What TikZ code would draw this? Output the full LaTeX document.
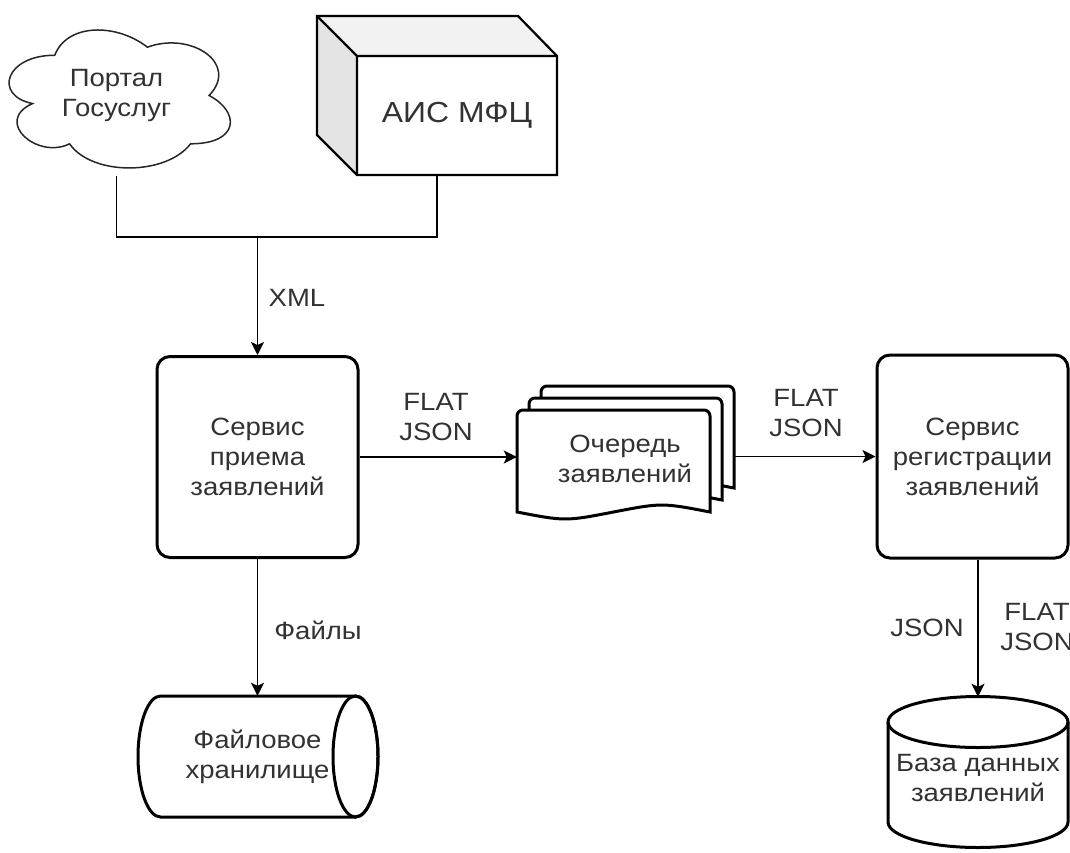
\documentclass[tikz,border=0pt]{standalone}
\usepackage{fontspec}
\setmainfont{Liberation Sans}[FakeStretch=1.1]
\usetikzlibrary{arrows.meta}
\definecolor{txt}{RGB}{50,50,50}
\definecolor{cubetop}{RGB}{242,242,242}
\definecolor{cubeside}{RGB}{228,228,228}
\begin{document}
\begin{tikzpicture}[x=1pt,y=-1pt,
  every node/.style={text=txt, font=\fontsize{25}{30}\selectfont, align=center, inner sep=0pt},
  box/.style={draw=black, line width=3pt, rounded corners=13pt, fill=white, minimum width=201pt, minimum height=201pt},
  conn/.style={draw=black, line width=1.8pt},
  arr/.style={conn, -{Stealth[length=13pt,width=13pt,inset=3pt]}},
  outl/.style={draw=black, line width=3pt, fill=white},
  cubeline/.style={draw=black, line width=2.2pt},
  cloudline/.style={draw=black!85, line width=1.5pt, fill=white},
  lbl/.style={inner sep=0pt}
]
\useasboundingbox (0,0) rectangle (1070,852);
\clip (0,0) rectangle (1070,852);

% ---------- cloud: Портал Госуслуг ----------
\draw[cloudline] (54.75,55.25) .. controls (5.35,55.25) and (-7,95.5) .. (32.52,103.55)
  .. controls (-7,121.26) and (37.46,159.9) .. (69.57,143.8)
  .. controls (91.8,176) and (165.9,176) .. (190.6,143.8)
  .. controls (240,143.8) and (240,111.6) .. (209.1,95.5)
  .. controls (240,63.3) and (190.6,31.1) .. (147.4,47.2)
  .. controls (116.5,23.05) and (67.1,23.05) .. (54.75,55.25) -- cycle;
\node[minimum width=247pt, minimum height=161pt] (cloud) at (116.5,95.5) {Портал\\Госуслуг};

% ---------- cube: АИС МФЦ ----------
\fill[cubetop] (317,16) -- (518,16) -- (557,56) -- (357,56) -- cycle;
\fill[cubeside] (317,16) -- (357,56) -- (357,175) -- (317,135) -- cycle;
\fill[white] (357,56) rectangle (557,175);
\draw[cubeline, line join=miter] (317,16) -- (518,16) -- (557,56) -- (557,175) -- (357,175) -- (317,135) -- cycle;
\draw[cubeline] (317,16) -- (357,56) -- (557,56) (357,56) -- (357,175);
\node[minimum width=200pt, minimum height=119pt, font=\fontsize{29}{34}\selectfont] (cube) at (457,115.5) {АИС МФЦ};
\coordinate (cubeport) at ([xshift=-20pt]cube.south);

% ---------- service boxes ----------
\node[box] (recv) at (257.5,457) {Сервис\\приема\\заявлений};
\node[box, minimum width=191pt, minimum height=203pt] (reg) at (972.5,456.5) {Сервис\\регистрации\\заявлений};

% ---------- queue (stack of documents) ----------
\draw[outl] (541,488) [rounded corners=6pt] -- (541,386) -- (734,386) [sharp corners] -- (734,488)
  .. controls (685.75,478.7) .. (637.5,488) .. controls (589.25,497.3) .. (541,488) -- cycle;
\draw[outl] (529,500) [rounded corners=6pt] -- (529,398) -- (722,398) [sharp corners] -- (722,500)
  .. controls (673.75,490.7) .. (625.5,500) .. controls (577.25,509.3) .. (529,500) -- cycle;
\draw[outl] (517,512) [rounded corners=6pt] -- (517,410) -- (710,410) [sharp corners] -- (710,512)
  .. controls (661.75,502.7) .. (613.5,512) .. controls (565.25,521.3) .. (517,512) -- cycle;
\node[minimum width=217pt, minimum height=125pt] (queue) at (625.5,448.5) {};
\node (queuetext) at (625,459) {Очередь\\заявлений};

% ---------- file storage (horizontal cylinder) ----------
\draw[outl] (355.5,696) -- (160.5,696) arc(270:90:22.5 and 60.5) -- (355.5,817) arc(90:-90:22.5 and 60.5) -- cycle;
\draw[draw=black, line width=3pt] (355.5,756.5) ellipse [x radius=22.5, y radius=60.5];
\node[minimum width=240pt, minimum height=122pt] (files) at (257.5,757) {Файловое\\хранилище};

% ---------- database (vertical cylinder) ----------
\draw[outl] (888,722) -- (888,822) arc(180:0:90 and 25.5) -- (1068,722) arc(0:-180:90 and 25.5) -- cycle;
\draw[draw=black, line width=3pt] (888,722) arc(180:0:90 and 25.5);
\node[minimum width=180pt, minimum height=162pt] (db) at (978,778) {База данных\\заявлений};

% ---------- connectors ----------
\coordinate (join) at (257.5,237);
\draw[conn] (cloud.south) |- (join) -| (cubeport);
\draw[arr] (join) -- (recv.north);
\draw[arr] (recv.east) -- (recv.east -| queue.west);
\draw[arr] (queue.east |- reg.west) -- (reg.west);
\draw[arr] (recv.south) -- (files.north);
\draw[arr] ([xshift=5.5pt]reg.south) -- ([xshift=5.5pt]reg.south |- db.north);

% ---------- labels ----------
\node[lbl] (lxml) at (297,298) {XML};
\node[lbl] (lflat1) at (436,417) {FLAT\\JSON};
\node[lbl] (lflat2) at (806,413) {FLAT\\JSON};
\node[lbl] (lfiles) at (318,630) {Файлы};
\node[lbl] (ljson) at (927,628) {JSON};
\node[lbl] (lflat3) at (1037,627) {FLAT\\JSON};
\end{tikzpicture}
\end{document}
